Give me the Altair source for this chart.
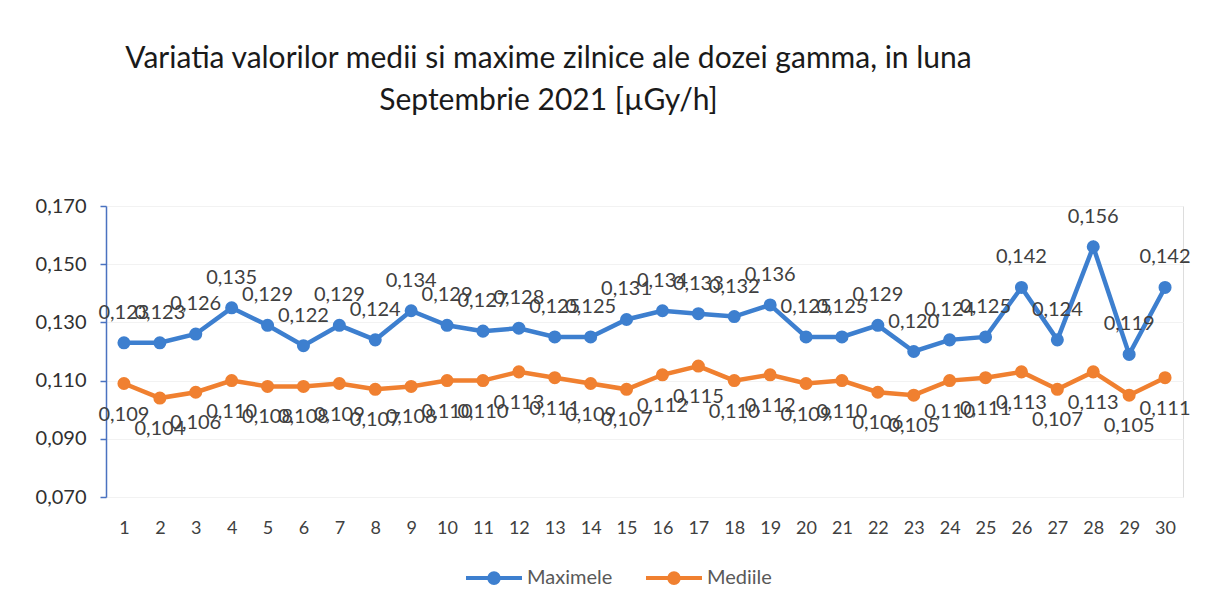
import altair as alt
import pandas as pd

days = list(range(1, 31))
maximele = [0.123, 0.123, 0.126, 0.135, 0.129, 0.122, 0.129, 0.124, 0.134, 0.129,
            0.127, 0.128, 0.125, 0.125, 0.131, 0.134, 0.133, 0.132, 0.136, 0.125,
            0.125, 0.129, 0.120, 0.124, 0.125, 0.142, 0.124, 0.156, 0.119, 0.142]
mediile = [0.109, 0.104, 0.106, 0.110, 0.108, 0.108, 0.109, 0.107, 0.108, 0.110,
           0.110, 0.113, 0.111, 0.109, 0.107, 0.112, 0.115, 0.110, 0.112, 0.109,
           0.110, 0.106, 0.105, 0.110, 0.111, 0.113, 0.107, 0.113, 0.105, 0.111]
series = ["Maximele", "Mediile"]
colors = ["#3d7fcf", "#f08030"]
y_ticks = [0.07, 0.09, 0.11, 0.13, 0.15, 0.17]
title_lines = ["Variatia valorilor medii si maxime zilnice ale dozei gamma, in luna",
               "Septembrie 2021 [\u00b5Gy/h]"]

rows = []
for name, vals in zip(series, [maximele, mediile]):
    for d, v in zip(days, vals):
        rows.append({"zi": d, "serie": name, "val": v,
                     "lbl": f"{v:.3f}".replace(".", ",")})
df = pd.DataFrame(rows)

FONT = "Lato"

x = alt.X("zi:O", axis=alt.Axis(title=None, labelAngle=0, ticks=False, domain=False,
                                labelFontSize=18, labelColor="#404040", labelPadding=22,
                                labelFont=FONT, grid=False))
y = alt.Y("val:Q", scale=alt.Scale(domain=[0.07, 0.17], nice=False, zero=False),
          axis=alt.Axis(title=None, values=y_ticks,
                        labelExpr="replace(format(datum.value, '.3f'), '.', ',')",
                        domainColor="#4a72c0", tickColor="#4a72c0", tickSize=6,
                        domainWidth=1.5, tickWidth=1.5, grid=True, gridColor="#f2f2f2",
                        labelFontSize=20, labelColor="#303030", labelPadding=14,
                        labelFont=FONT))

sym_path = ("M-1,0H1"
            "M0.17,0A0.17,0.17,0,1,1,-0.17,0A0.17,0.17,0,1,1,0.17,0"
            "M0.1,0A0.1,0.1,0,1,1,-0.1,0A0.1,0.1,0,1,1,0.1,0"
            "M0.03,0A0.03,0.03,0,1,1,-0.03,0A0.03,0.03,0,1,1,0.03,0")

legend = alt.Legend(
    title=None, orient="none", direction="horizontal", legendX=358, legendY=342,
    symbolType=sym_path, symbolSize=3136, symbolStrokeWidth=4, symbolOpacity=1,
    labelFontSize=20, labelColor="#595959",
    labelFont=FONT, columnPadding=25, labelOffset=3)

color_scale = alt.Scale(domain=series, range=colors)
base = alt.Chart(df)

lines = base.mark_line(strokeWidth=4.5).encode(
    x=x, y=y, color=alt.Color("serie:N", scale=color_scale, legend=legend))
pts = base.mark_point(filled=True, size=170, opacity=1).encode(
    x=x, y=y, color=alt.Color("serie:N", scale=color_scale, legend=None))
lab_max = base.transform_filter(alt.datum.serie == "Maximele").mark_text(
    dy=-30, fontSize=20, font=FONT, color="#404040").encode(x=x, y=y, text="lbl:N")
lab_med = base.transform_filter(alt.datum.serie == "Mediile").mark_text(
    dy=31, fontSize=20, font=FONT, color="#404040").encode(x=x, y=y, text="lbl:N")

chart = alt.layer(lines, pts, lab_max, lab_med).properties(
    width=1077, height=291,
    padding={"left": 27, "top": 36, "right": 5, "bottom": 5},
    title=alt.TitleParams(text=title_lines, fontSize=30, font=FONT, fontWeight="normal",
                          color="#1a1a1a", lineHeight=42, anchor="middle", dx=-96,
                          offset=80),
).configure_view(stroke=None).configure(background="white")

chart.save("out.html", embed_options={"renderer": "svg", "actions": False})
